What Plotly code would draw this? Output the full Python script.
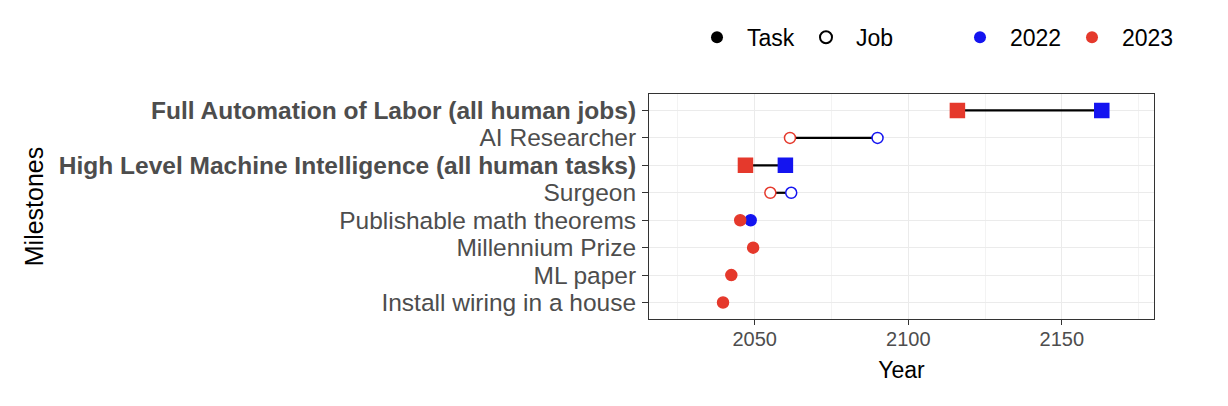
import plotly.graph_objects as go

milestones = [
    "Install wiring in a house",
    "ML paper",
    "Millennium Prize",
    "Publishable math theorems",
    "Surgeon",
    "High Level Machine Intelligence (all human tasks)",
    "AI Researcher",
    "Full Automation of Labor (all human jobs)",
]
year_2022 = [None, None, None, 2048.7, 2061.9, 2060, 2090, 2163]
year_2023 = [2039.7, 2042.4, 2049.5, 2045.3, 2055.1, 2047, 2061.5, 2116]
kind = ["Task", "Task", "Task", "Task", "Job", "Task", "Job", "Task"]
aggregate = [False, False, False, False, False, True, False, True]
x_ticks = [2050, 2100, 2150]

RED = "#E5392C"
BLUE = "#1414F0"
GRID = "#EBEBEB"
TICKCOL = "#4D4D4D"
FONT = "Liberation Sans, Arial, Helvetica, sans-serif"

ypos = list(range(1, len(milestones) + 1))

fig = go.Figure()

# connecting segments
seg_x, seg_y = [], []
for y, a, b in zip(ypos, year_2022, year_2023):
    if a is not None and b is not None:
        seg_x += [a, b, None]
        seg_y += [y, y, None]
fig.add_trace(go.Scatter(x=seg_x, y=seg_y, mode="lines",
                         line=dict(color="black", width=2.2),
                         showlegend=False, hoverinfo="skip"))


def marker_props(values, color):
    xs, ys, syms, fills, sizes = [], [], [], [], []
    for y, v, k, agg in zip(ypos, values, kind, aggregate):
        if v is None:
            continue
        xs.append(v)
        ys.append(y)
        if agg:
            syms.append("square")
            sizes.append(14)
        else:
            syms.append("circle")
            sizes.append(11)
        fills.append("white" if k == "Job" else color)
    return xs, ys, syms, fills, sizes


for values, color in [(year_2022, BLUE), (year_2023, RED)]:
    xs, ys, syms, fills, sizes = marker_props(values, color)
    fig.add_trace(go.Scatter(
        x=xs, y=ys, mode="markers",
        marker=dict(symbol=syms, color=fills, size=sizes, opacity=1,
                    line=dict(color=color, width=1.5)),
        showlegend=False))

# legend entries
fig.add_trace(go.Scatter(x=[None], y=[None], mode="markers", name="Task",
                         marker=dict(symbol="circle", color="black", size=10),
                         legend="legend"))
fig.add_trace(go.Scatter(x=[None], y=[None], mode="markers", name="Job",
                         marker=dict(symbol="circle-open", color="black", size=10,
                                     line=dict(width=1.3)),
                         legend="legend"))
fig.add_trace(go.Scatter(x=[None], y=[None], mode="markers", name="2022",
                         marker=dict(symbol="circle", color=BLUE, size=10),
                         legend="legend2"))
fig.add_trace(go.Scatter(x=[None], y=[None], mode="markers", name="2023",
                         marker=dict(symbol="circle", color=RED, size=10),
                         legend="legend2"))

ticktext = [f"<b>{m}</b>" if agg else m for m, agg in zip(milestones, aggregate)]

W, H = 1212, 390

fig.update_layout(
    width=W, height=H,
    margin=dict(l=641, r=66, t=86, b=79, autoexpand=False),
    paper_bgcolor="white", plot_bgcolor="white",
    font=dict(family=FONT, size=20, color="black"),
    legend=dict(orientation="h", x=679 / W, y=0.98, xanchor="left", yanchor="top",
                xref="container", yref="container", entrywidth=44, itemwidth=50,
                font=dict(size=23, color="black"),
                itemsizing="constant", bgcolor="rgba(0,0,0,0)"),
    legend2=dict(orientation="h", x=942 / W, y=0.98, xanchor="left", yanchor="top",
                 xref="container", yref="container", entrywidth=47, itemwidth=50,
                 font=dict(size=23, color="black"),
                 itemsizing="constant", bgcolor="rgba(0,0,0,0)"),
    xaxis=dict(range=[2015.6, 2180], tickvals=x_ticks,
               showgrid=True, gridcolor=GRID, gridwidth=1.3,
               minor=dict(tickvals=[2025, 2075, 2125, 2175], showgrid=True,
                          gridcolor="#F3F3F3", gridwidth=0.8, ticks=""),
               ticks="outside", ticklen=5, tickcolor="#333333",
               ticklabelstandoff=-3,
               tickfont=dict(size=20, color=TICKCOL),
               showline=True, linecolor="#333333", linewidth=1, mirror=True,
               zeroline=False, automargin=False,
               title=dict(text="Year", font=dict(size=23, color="black"), standoff=12)),
    yaxis=dict(range=[0.4, 8.6], tickvals=ypos, ticktext=ticktext,
               showgrid=True, gridcolor=GRID, gridwidth=1.3,
               ticks="outside", ticklen=6, tickcolor="#333333",
               ticklabelstandoff=1,
               tickfont=dict(size=24.5, color=TICKCOL),
               showline=True, linecolor="#333333", linewidth=1, mirror=True,
               zeroline=False, automargin=False,
               title=dict(text="Milestones", font=dict(size=25, color="black"), standoff=8)),
)

fig.write_html("out.html")
